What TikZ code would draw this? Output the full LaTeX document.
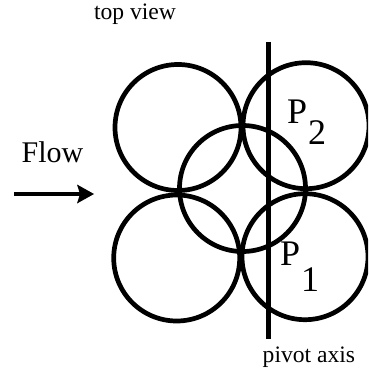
\documentclass[tikz,border=0pt]{standalone}
\usepackage{fontspec}
\setmainfont{Liberation Serif}
\usetikzlibrary{arrows.meta}
\tikzset{
  ring/.style={circle,draw=black,line width=4.7pt,minimum size=126pt,inner sep=0pt,outer sep=0pt},
  axisline/.style={draw=black,line width=4.8pt},
  flowarrow/.style={draw=black,line width=4.4pt,-{Stealth[length=17pt,width=19pt,inset=3pt,line width=0pt,sep=0pt]}},
  lab/.style={anchor=base west,inner sep=0pt,outer sep=0pt,text=black},
  small/.style={lab,font=\fontsize{23.6}{26}\selectfont},
  flowlab/.style={lab,font=\fontsize{30}{34}\selectfont},
  big/.style={lab,font=\fontsize{36}{38}\selectfont}
}
\begin{document}
\begin{tikzpicture}[x=1pt,y=-1pt]
\useasboundingbox (0,0) rectangle (368,374);
\clip (0,0) rectangle (368,374);
\node[ring] (tl) at (178,127.5) {};
\node[ring] (tr) at (306,125.7) {};
\node[ring] (mid) at (242.5,188.5) {};
\node[ring] (bl) at (176.7,258) {};
\node[ring] (br) at (305,256.7) {};
\coordinate (axtop) at (268.5,42);
\coordinate (axbot) at (268.5,338.7);
\draw[axisline] (axtop) -- (axbot);
\coordinate (fstart) at (14,194);
\coordinate (fend) at (94,194);
\draw[flowarrow] (fstart) -- (fend);
\node[small] (topview) at (94,20) {top view};
\node[flowlab] (flow) at (21.7,162) {Flow};
\node[big] (p2) at (287,124) {P};
\node[big] (two) at (308,145) {2};
\node[big] (p1) at (280,265) {P};
\node[big] (one) at (301,291) {1};
\node[small] (pivot) at (262.7,362.7) {pivot axis};
\end{tikzpicture}
\end{document}
